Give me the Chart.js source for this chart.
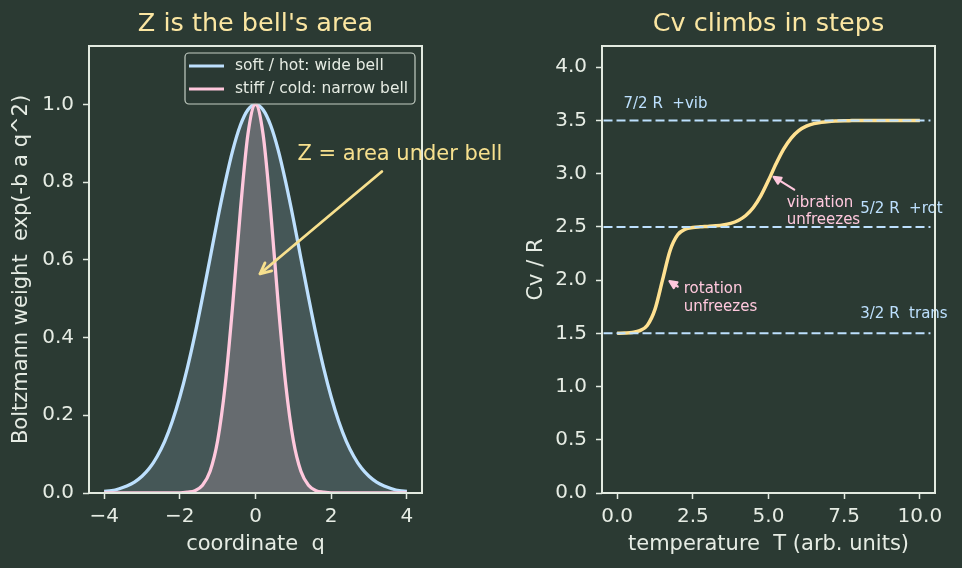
<!DOCTYPE html>
<html>
<head>
<meta charset="utf-8">
<script src="https://cdn.jsdelivr.net/npm/chart.js@4.4.1/dist/chart.umd.min.js"></script>
<style>
    html, body { margin: 0; padding: 0; background: #2b3a33; }
    #wrap { position: relative; width: 962px; height: 568px; overflow: hidden; }
    canvas { position: absolute; top: 0; }
</style>
</head>
<body>
<div id="wrap">
    <canvas id="bell-chart" width="600" height="568" style="left:0"></canvas>
    <canvas id="cv-chart" width="481" height="568" style="left:481px"></canvas>
</div>
<script>
// Left panel: Boltzmann weight vs coordinate
const qValues = [-4.0, -3.8, -3.6, -3.4, -3.2, -3.0, -2.8, -2.6, -2.4, -2.2, -2.0, -1.8, -1.6, -1.4, -1.2, -1.0, -0.8, -0.6, -0.4, -0.2,
    0.0, 0.2, 0.4, 0.6, 0.8, 1.0, 1.2, 1.4, 1.6, 1.8, 2.0, 2.2, 2.4, 2.6, 2.8, 3.0, 3.2, 3.4, 3.6, 3.8, 4.0];
const wideBell = [0.004, 0.006, 0.011, 0.018, 0.028, 0.043, 0.064, 0.094, 0.133, 0.184, 0.247, 0.322, 0.408, 0.504, 0.604, 0.705, 0.799, 0.882, 0.946, 0.986,
    1.0, 0.986, 0.946, 0.882, 0.799, 0.705, 0.604, 0.504, 0.408, 0.322, 0.247, 0.184, 0.133, 0.094, 0.064, 0.043, 0.028, 0.018, 0.011, 0.006, 0.004];
const narrowBell = [0, 0, 0, 0, 0, 0, 0, 0, 0, 0, 0.0, 0.002, 0.006, 0.020, 0.056, 0.135, 0.278, 0.487, 0.726, 0.923,
    1.0, 0.923, 0.726, 0.487, 0.278, 0.135, 0.056, 0.020, 0.006, 0.002, 0.0, 0, 0, 0, 0, 0, 0, 0, 0, 0, 0];
const bellXTicks = [-4, -2, 0, 2, 4];
const bellYTicks = [0, 0.2, 0.4, 0.6, 0.8, 1.0];

// Right panel: heat capacity vs temperature
const temperatures = [0, 0.25, 0.5, 0.75, 1.0, 1.25, 1.5, 1.75, 2.0, 2.25, 2.5, 2.75, 3.0, 3.25, 3.5, 3.75, 4.0, 4.25, 4.5, 4.75,
    5.0, 5.25, 5.5, 5.75, 6.0, 6.25, 6.5, 6.75, 7.0, 7.25, 7.5, 7.75, 8.0, 8.25, 8.5, 8.75, 9.0, 9.25, 9.5, 9.75, 10.0];
const cvValues = [1.501, 1.503, 1.508, 1.525, 1.577, 1.725, 2.002, 2.279, 2.426, 2.479, 2.495, 2.501, 2.505, 2.510, 2.518, 2.533, 2.560, 2.607, 2.682, 2.794,
    2.938, 3.093, 3.231, 3.335, 3.405, 3.447, 3.471, 3.484, 3.491, 3.495, 3.498, 3.499, 3.5, 3.5, 3.5, 3.5, 3.5, 3.5, 3.5, 3.5, 3.5];
const plateauLevels = [1.5, 2.5, 3.5];
const plateauLabels = ['3/2 R  trans', '5/2 R  +rot', '7/2 R  +vib'];
const cvXTicks = [0, 2.5, 5, 7.5, 10];
const cvYTicks = [0, 0.5, 1.0, 1.5, 2.0, 2.5, 3.0, 3.5, 4.0];

const BG = '#2b3a33';
const FG = '#e6ece4';
const FRAME = '#e2eae0';
const BLUE = '#bde0fe';
const PINK = '#ffc8dd';
const YELLOW = '#ffe191';
const TITLE_YELLOW = '#fbe6a2';

Chart.defaults.font.family = "'DejaVu Sans', sans-serif";
Chart.defaults.color = FG;

function axisStyle(ticks, fmt, reservedSize, isX, titleText, titlePad) {
    return {
        type: 'linear',
        afterBuildTicks: s => { s.ticks = ticks.map(v => ({ value: v })); },
        afterFit: s => { if (isX) s.height = reservedSize; else s.width = reservedSize; },
        grid: { display: true, drawOnChartArea: false, drawTicks: true, tickLength: 6, tickWidth: 1.5, tickColor: FRAME },
        border: { display: false },
        ticks: { color: FG, font: { size: 20 }, padding: isX ? 6 : 9, autoSkip: false, maxRotation: 0, callback: v => fmt(v) },
        title: { display: true, text: titleText, color: FG, font: { size: 21 }, padding: titlePad }
    };
}

function drawArrow(ctx, x0, y0, x1, y1, color, width, headLen, filled) {
    const ang = Math.atan2(y1 - y0, x1 - x0);
    ctx.save();
    ctx.strokeStyle = color;
    ctx.fillStyle = color;
    ctx.lineWidth = width;
    ctx.lineCap = 'round';
    ctx.lineJoin = 'round';
    ctx.beginPath();
    ctx.moveTo(x0, y0);
    ctx.lineTo(filled ? x1 - Math.cos(ang) * headLen * 0.6 : x1, filled ? y1 - Math.sin(ang) * headLen * 0.6 : y1);
    ctx.stroke();
    const a1 = ang + Math.PI - 0.45;
    const a2 = ang + Math.PI + 0.45;
    ctx.beginPath();
    ctx.moveTo(x1 + Math.cos(a1) * headLen, y1 + Math.sin(a1) * headLen);
    ctx.lineTo(x1, y1);
    ctx.lineTo(x1 + Math.cos(a2) * headLen, y1 + Math.sin(a2) * headLen);
    if (filled) { ctx.closePath(); ctx.fill(); }
    ctx.stroke();
    ctx.restore();
}

function drawFrameAndTitle(chart, title) {
    const { ctx, chartArea: a } = chart;
    ctx.save();
    ctx.strokeStyle = FRAME;
    ctx.lineWidth = 2;
    ctx.strokeRect(a.left, a.top, a.right - a.left, a.bottom - a.top);
    ctx.fillStyle = TITLE_YELLOW;
    ctx.font = "25.5px 'DejaVu Sans'";
    ctx.textAlign = 'center';
    ctx.textBaseline = 'middle';
    ctx.fillText(title, (a.left + a.right) / 2, 24);
    ctx.restore();
}

// Annotations, frame and legend for the bell panel
const bellOverlay = {
    id: 'bellOverlay',
    afterDraw(chart) {
        const { ctx, chartArea: a, scales: { x, y } } = chart;
        drawFrameAndTitle(chart, "Z is the bell's area");

        ctx.save();
        ctx.fillStyle = '#f7e08e';
        ctx.font = "21px 'DejaVu Sans'";
        ctx.textAlign = 'left';
        ctx.textBaseline = 'middle';
        ctx.fillText('Z = area under bell', x.getPixelForValue(1.11), y.getPixelForValue(0.871));
        ctx.restore();
        drawArrow(ctx, x.getPixelForValue(3.34), y.getPixelForValue(0.827),
            x.getPixelForValue(0.12), y.getPixelForValue(0.564), '#f7e08e', 2.8, 12, false);

        // legend box in the upper right corner
        const bw = 230, bh = 51;
        const bx = a.right - 7 - bw, by = a.top + 7;
        ctx.save();
        ctx.beginPath();
        ctx.roundRect(bx, by, bw, bh, 4);
        ctx.fillStyle = 'rgba(43,58,51,0.8)';
        ctx.fill();
        ctx.strokeStyle = '#c3cdc3';
        ctx.lineWidth = 1.2;
        ctx.stroke();
        const entries = [['soft / hot: wide bell', BLUE], ['stiff / cold: narrow bell', PINK]];
        ctx.font = "15.5px 'DejaVu Sans'";
        ctx.textBaseline = 'middle';
        entries.forEach(([label, color], i) => {
            const ly = by + 13 + i * 23;
            ctx.strokeStyle = color;
            ctx.lineWidth = 3.2;
            ctx.beginPath();
            ctx.moveTo(bx + 4, ly);
            ctx.lineTo(bx + 39, ly);
            ctx.stroke();
            ctx.fillStyle = FG;
            ctx.fillText(label, bx + 50, ly);
        });
        ctx.restore();
    }
};

// Annotations and frame for the heat capacity panel
const cvOverlay = {
    id: 'cvOverlay',
    afterDraw(chart) {
        const { ctx, scales: { x, y } } = chart;
        ctx.save();
        ctx.font = "15px 'DejaVu Sans'";
        ctx.textAlign = 'left';
        ctx.textBaseline = 'middle';
        ctx.fillStyle = BLUE;
        const labelSpots = [[8.03, 1.68], [8.03, 2.67], [0.21, 3.65]];
        plateauLabels.forEach((txt, i) => {
            ctx.fillText(txt, x.getPixelForValue(labelSpots[i][0]), y.getPixelForValue(labelSpots[i][1]));
        });
        ctx.fillStyle = PINK;
        ctx.fillText('rotation', x.getPixelForValue(2.2), y.getPixelForValue(1.92));
        ctx.fillText('unfreezes', x.getPixelForValue(2.2), y.getPixelForValue(1.75));
        ctx.fillText('vibration', x.getPixelForValue(5.6), y.getPixelForValue(2.72));
        ctx.fillText('unfreezes', x.getPixelForValue(5.6), y.getPixelForValue(2.56));
        ctx.restore();
        drawArrow(ctx, x.getPixelForValue(2.0), y.getPixelForValue(1.94),
            x.getPixelForValue(1.73), y.getPixelForValue(1.99), PINK, 2.2, 8, true);
        drawArrow(ctx, x.getPixelForValue(5.85), y.getPixelForValue(2.85),
            x.getPixelForValue(5.17), y.getPixelForValue(2.97), PINK, 2.2, 8, true);
        drawFrameAndTitle(chart, 'Cv climbs in steps');
    }
};

const oneDecimal = v => v.toFixed(1);
const signedInt = v => (v < 0 ? '\u2212' + Math.abs(v) : String(v));

new Chart(document.getElementById('bell-chart').getContext('2d'), {
    type: 'line',
    data: {
        datasets: [
            {
                label: 'soft / hot: wide bell',
                data: qValues.map((q, i) => ({ x: q, y: wideBell[i] })),
                borderColor: BLUE,
                backgroundColor: 'rgba(189, 224, 254, 0.18)',
                borderWidth: 3.3,
                fill: 'origin',
                pointRadius: 0,
                cubicInterpolationMode: 'monotone',
                order: 2
            },
            {
                label: 'stiff / cold: narrow bell',
                data: qValues.map((q, i) => ({ x: q, y: narrowBell[i] })),
                borderColor: PINK,
                backgroundColor: 'rgba(255, 200, 221, 0.18)',
                borderWidth: 3.3,
                fill: 'origin',
                pointRadius: 0,
                cubicInterpolationMode: 'monotone',
                order: 1
            }
        ]
    },
    options: {
        responsive: false,
        animation: false,
        devicePixelRatio: 1,
        layout: { padding: { top: 46, right: 178, bottom: 0, left: 0 } },
        plugins: { legend: { display: false }, tooltip: { enabled: false } },
        scales: {
            x: Object.assign(axisStyle(bellXTicks, signedInt, 75, true, 'coordinate  q', { top: 0, bottom: 11 }), { min: -4.4, max: 4.4 }),
            y: Object.assign(axisStyle(bellYTicks, oneDecimal, 89, false, 'Boltzmann weight  exp(-b a q^2)', { top: 9, bottom: 0 }), { min: 0, max: 1.15 })
        }
    },
    plugins: [bellOverlay]
});

new Chart(document.getElementById('cv-chart').getContext('2d'), {
    type: 'line',
    data: {
        datasets: [
            {
                label: 'Cv / R',
                data: temperatures.map((t, i) => ({ x: t, y: cvValues[i] })),
                borderColor: YELLOW,
                borderWidth: 3.5,
                fill: false,
                pointRadius: 0,
                cubicInterpolationMode: 'monotone',
                order: 2
            },
            ...plateauLevels.map(level => ({
                label: 'level ' + level,
                data: [{ x: -0.45, y: level }, { x: 10.35, y: level }],
                borderColor: BLUE,
                borderWidth: 2,
                borderDash: [9, 4],
                fill: false,
                pointRadius: 0,
                order: 1
            }))
        ]
    },
    options: {
        responsive: false,
        animation: false,
        devicePixelRatio: 1,
        layout: { padding: { top: 46, right: 27, bottom: 0, left: 0 } },
        plugins: { legend: { display: false }, tooltip: { enabled: false } },
        scales: {
            x: Object.assign(axisStyle(cvXTicks, oneDecimal, 75, true, 'temperature  T (arb. units)', { top: 0, bottom: 11 }), { min: -0.5, max: 10.5 }),
            y: Object.assign(axisStyle(cvYTicks, oneDecimal, 121, false, 'Cv / R', { top: 43, bottom: 0 }), { min: 0, max: 4.2 })
        }
    },
    plugins: [cvOverlay]
});
</script>
</body>
</html>
